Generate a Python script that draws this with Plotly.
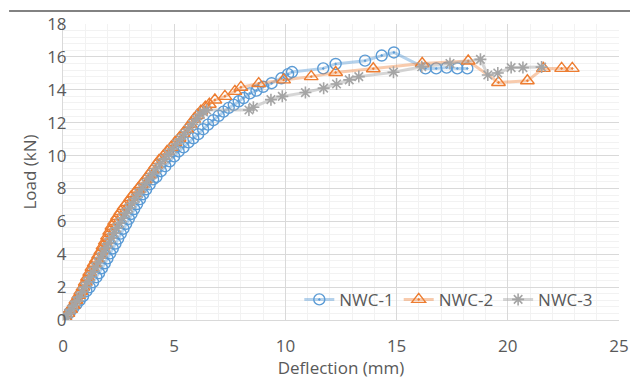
import plotly.graph_objects as go

# NWC-1 (blue, double circles)
nwc1_x = [0.0, 0.15, 0.3, 0.45, 0.6, 0.75, 0.9, 1.05, 1.2, 1.35, 1.5, 1.62, 1.75, 1.88, 2.0, 2.12,
          2.24, 2.36, 2.48, 2.6, 2.72, 2.84, 2.96, 3.08, 3.2, 3.33, 3.46, 3.6, 3.74, 3.9, 4.05, 4.2,
          4.4, 4.6, 4.8, 5.0, 5.2, 5.42, 5.64, 5.86, 6.08, 6.3, 6.52, 6.76, 7.0, 7.22, 7.45, 7.68,
          7.9, 8.12, 8.4, 8.7, 9.0, 9.38, 9.82, 10.12, 10.3, 11.7, 12.26, 13.58, 14.33, 14.88,
          16.3, 16.78, 17.25, 17.73, 18.18]
nwc1_y = [0.0, 0.2, 0.45, 0.7, 0.95, 1.2, 1.45, 1.75, 2.0, 2.3, 2.6, 2.85, 3.15, 3.45, 3.75, 4.05,
          4.35, 4.65, 4.95, 5.25, 5.55, 5.85, 6.15, 6.45, 6.75, 7.05, 7.35, 7.65, 7.95, 8.25, 8.55, 8.7,
          9.05, 9.35, 9.65, 9.95, 10.25, 10.5, 10.8, 11.05, 11.3, 11.6, 11.88, 12.15, 12.42, 12.67, 12.9, 13.08,
          13.3, 13.5, 13.78, 13.95, 14.18, 14.4, 14.7, 14.95, 15.08, 15.3, 15.57, 15.77, 16.08, 16.27,
          15.3, 15.3, 15.35, 15.3, 15.3]

# NWC-2 (orange, triangles)
nwc2_x = [0.0, 0.1, 0.22, 0.34, 0.46, 0.58, 0.7, 0.8, 0.9, 1.0, 1.1, 1.2, 1.3, 1.4, 1.5, 1.6, 1.7,
          1.8, 1.9, 2.0, 2.1, 2.2, 2.32, 2.45, 2.6, 2.75, 2.9, 3.05, 3.2, 3.36, 3.52, 3.68, 3.84, 4.0,
          4.16, 4.32, 4.5, 4.68, 4.86, 5.04, 5.22, 5.4, 5.56, 5.72, 5.88, 6.04, 6.2, 6.4, 6.58, 6.83,
          7.28, 7.73, 8.0, 8.8, 9.92, 11.16, 12.26, 13.95, 16.15, 18.22, 19.58, 20.88, 21.6, 22.42, 22.9]
nwc2_y = [0.0, 0.15, 0.4, 0.65, 0.9, 1.2, 1.5, 1.75, 2.0, 2.3, 2.6, 2.9, 3.2, 3.45, 3.7, 3.95, 4.2,
          4.5, 4.8, 5.1, 5.4, 5.7, 6.0, 6.3, 6.6, 6.9, 7.15, 7.45, 7.7, 7.95, 8.25, 8.5, 8.8, 9.1,
          9.4, 9.7, 9.95, 10.25, 10.5, 10.8, 11.05, 11.35, 11.6, 11.9, 12.2, 12.45, 12.7, 12.95, 13.12, 13.38,
          13.6, 13.9, 14.15, 14.38, 14.6, 14.8, 15.05, 15.28, 15.6, 15.75, 14.44, 14.55, 15.3, 15.3, 15.3]

# NWC-3 (gray, asterisks)
nwc3_x = [0.0, 0.12, 0.25, 0.38, 0.5, 0.62, 0.74, 0.86, 0.98, 1.1, 1.22, 1.34, 1.46, 1.58, 1.7, 1.82,
          1.94, 2.06, 2.18, 2.3, 2.42, 2.55, 2.68, 2.82, 2.96, 3.1, 3.25, 3.4, 3.56, 3.72, 3.88, 4.04,
          4.2, 4.38, 4.56, 4.74, 4.92, 5.1, 5.28, 5.46, 5.64, 5.82, 6.0, 6.16, 6.32, 6.46, 8.36, 8.56,
          9.35, 9.86, 10.9, 11.72, 12.3, 12.87, 13.3, 14.86, 16.13, 17.4, 18.77, 19.1, 19.55, 20.15,
          20.68, 21.52]
nwc3_y = [0.0, 0.15, 0.4, 0.65, 0.9, 1.15, 1.4, 1.7, 2.0, 2.3, 2.6, 2.9, 3.2, 3.5, 3.8, 4.1,
          4.4, 4.7, 5.0, 5.3, 5.6, 5.9, 6.2, 6.5, 6.8, 7.1, 7.4, 7.7, 8.0, 8.3, 8.6, 8.9,
          9.2, 9.5, 9.8, 10.1, 10.4, 10.7, 11.0, 11.3, 11.6, 11.9, 12.2, 12.5, 12.65, 12.77, 12.77, 12.94,
          13.4, 13.6, 13.83, 14.1, 14.35, 14.6, 14.8, 15.07, 15.4, 15.6, 15.85, 14.9, 15.02, 15.35,
          15.35, 15.38]

x_ticks = [0, 5, 10, 15, 20, 25]
y_ticks = [0, 2, 4, 6, 8, 10, 12, 14, 16, 18]

FONT = "Open Sans"
TXT = "#595959"
FS = 17

fig = go.Figure()
fig.add_trace(go.Scatter(
    x=nwc1_x, y=nwc1_y, name="NWC-1", mode="lines+markers",
    line=dict(color="rgba(91,155,213,0.45)", width=3),
    marker=dict(symbol="circle-open-dot", size=11, color="#5B9BD5", line=dict(width=1.4, color="#5B9BD5")),
))
fig.add_trace(go.Scatter(
    x=nwc2_x, y=nwc2_y, name="NWC-2", mode="lines+markers",
    line=dict(color="rgba(237,125,49,0.4)", width=3),
    marker=dict(symbol="triangle-up-open-dot", size=12, color="#ED7D31", line=dict(width=1.4, color="#ED7D31")),
))
fig.add_trace(go.Scatter(
    x=nwc3_x, y=nwc3_y, name="NWC-3", mode="lines+markers",
    line=dict(color="rgba(165,165,165,0.45)", width=3),
    marker=dict(symbol="asterisk-open", size=10, color="#A5A5A5", line=dict(width=1.6, color="#A5A5A5")),
))

fig.add_shape(type="line", xref="paper", yref="paper", x0=-0.097, x1=1.034, y0=1.044, y1=1.044,
              line=dict(color="#595959", width=1.5))

fig.update_layout(
    width=630, height=371,
    margin=dict(l=55, r=19, t=16, b=59, autoexpand=False),
    paper_bgcolor="white", plot_bgcolor="white",
    font=dict(family=FONT, size=FS, color=TXT),
    showlegend=True,
    legend=dict(orientation="h", x=0.425, y=0.068, xanchor="left", yanchor="middle",
                bgcolor="rgba(0,0,0,0)", font=dict(size=FS, color=TXT),
                itemwidth=30, tracegroupgap=0),
    xaxis=dict(range=[0, 25], tickvals=x_ticks, ticktext=[str(v) for v in x_ticks],
               automargin=False,
               showgrid=True, gridcolor="#D9D9D9", gridwidth=1,
               minor=dict(dtick=1, showgrid=True, gridcolor="#F2F2F2", gridwidth=1),
               zeroline=False, showline=True, linecolor="#D9D9D9", mirror=False,
               ticks="outside", ticklen=11, tickcolor="rgba(0,0,0,0)",
               title=dict(text="Deflection (mm)", font=dict(size=FS, color=TXT), standoff=3),
               tickfont=dict(size=FS, color=TXT)),
    yaxis=dict(range=[0, 18], tickvals=y_ticks, ticktext=[str(v) for v in y_ticks],
               automargin=False,
               showgrid=True, gridcolor="#D9D9D9", gridwidth=1,
               minor=dict(dtick=0.4, showgrid=True, gridcolor="#F2F2F2", gridwidth=1),
               zeroline=False, showline=True, linecolor="#D9D9D9",
               ticks="", ticklabelstandoff=-8,
               title=dict(text="Load (kN)", font=dict(size=FS, color=TXT), standoff=6),
               tickfont=dict(size=FS, color=TXT)),
)

fig.write_html("out.html")
